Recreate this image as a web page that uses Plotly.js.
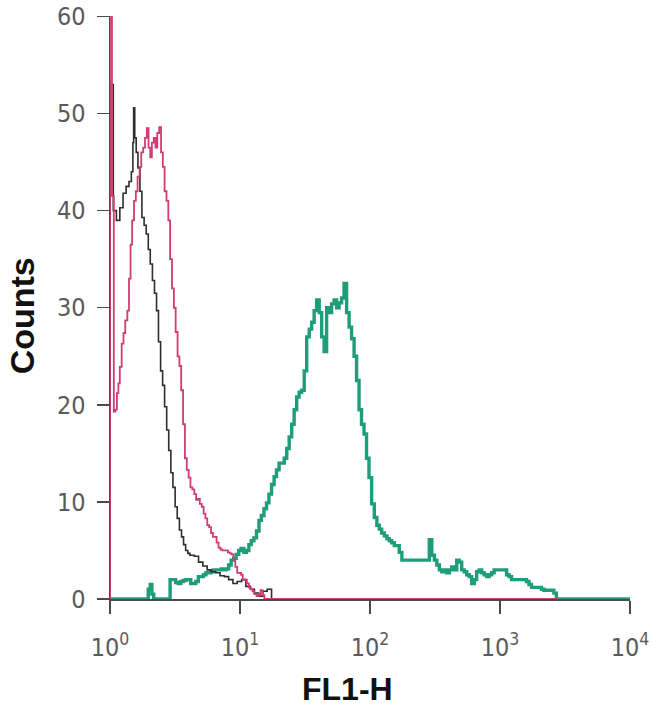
<!DOCTYPE html>
<html>
<head>
<meta charset="utf-8">
<script src="https://cdn.plot.ly/plotly-3.0.1.min.js"></script>
<style>html,body{margin:0;padding:0;background:#fff;}#chart{width:650px;height:717px;}</style>
</head>
<body>
<div id="chart"></div>
<script>
// FL1-H channel values (log scale) and event counts
const blackX = [1.0, 1.0, 1.06, 1.12, 1.19, 1.26, 1.33, 1.40, 1.46, 1.50, 1.52, 1.55, 1.59, 1.64, 1.70, 1.76, 1.83, 1.90, 1.97, 2.04, 2.12, 2.20, 2.28, 2.36, 2.45, 2.54, 2.63, 2.73, 2.83, 2.94, 3.05, 3.17, 3.29, 3.42, 3.55, 3.68, 3.82, 3.97, 4.12, 4.45, 4.80, 5.18, 5.59, 6.03, 6.51, 7.02, 7.58, 8.18, 8.83, 9.52, 10.3, 11.1, 12.0, 12.9, 13.9, 15.0, 16.2, 17.5, 20.0];
const blackY = [0, 53, 40, 39, 40.3, 41.8, 42.5, 43, 44, 47, 50.6, 47.5, 46, 44.4, 42, 39.3, 38.5, 37.6, 36, 34.5, 32.8, 31.5, 29.7, 26.5, 23.5, 22, 19.8, 17.4, 15.3, 13, 11.5, 9.5, 8.3, 7.1, 6.4, 5.6, 5.0, 4.7, 4.5, 4.4, 3.8, 3.4, 3.0, 2.8, 2.7, 2.4, 2.3, 2.0, 1.6, 1.8, 2.0, 1.3, 1.0, 0.6, 0.3, 0.8, 1.0, 0, 0];

const pinkX = [1.0, 1.0, 1.035, 1.07, 1.10, 1.13, 1.16, 1.19, 1.23, 1.27, 1.31, 1.36, 1.40, 1.44, 1.48, 1.53, 1.58, 1.63, 1.69, 1.74, 1.80, 1.86, 1.92, 1.98, 2.04, 2.10, 2.17, 2.24, 2.31, 2.39, 2.47, 2.55, 2.63, 2.72, 2.81, 2.90, 3.00, 3.10, 3.20, 3.31, 3.42, 3.53, 3.65, 3.77, 3.90, 4.03, 4.16, 4.30, 4.45, 4.60, 4.75, 4.91, 5.08, 5.25, 5.42, 5.60, 5.79, 5.99, 6.19, 6.40, 6.61, 6.84, 7.07, 7.31, 7.55, 7.81, 8.07, 8.34, 8.62, 8.91, 9.21, 9.52, 9.84, 10.2, 10.5, 10.9, 11.3, 11.7, 12.1, 12.5, 12.9, 13.4, 13.9, 14.4, 14.9, 15.4, 2800];
const pinkY = [0, 62, 41.5, 19.3, 19.5, 21.2, 22.2, 23.9, 26.3, 27.4, 28.7, 29.7, 33, 36.5, 39, 41, 42, 43.5, 44.5, 46, 46.5, 47.5, 48.5, 46.5, 45.5, 47, 47.5, 46.5, 48, 48.6, 46, 44.5, 42, 41, 39, 35, 32, 30, 27.5, 25, 24, 21.5, 18, 14.5, 13.3, 12.5, 11.5, 11.3, 10.8, 10.2, 10.3, 9.8, 9.5, 8.8, 8.3, 7.6, 7.4, 6.8, 6.4, 6.4, 5.8, 5.3, 5.1, 5.0, 5.0, 5.0, 4.8, 4.7, 4.6, 4.0, 3.3, 2.7, 2.7, 2.5, 2.0, 2.0, 1.6, 1.2, 1.0, 0.8, 0.5, 0.3, 0.5, 0.9, 0.4, 0, 0];

const greenX = [1.0, 1.85, 1.97, 2.04, 2.10, 2.17, 2.85, 2.90, 3.05, 3.20, 3.35, 3.50, 3.66, 3.83, 4.00, 4.18, 4.37, 4.57, 4.78, 5.00, 5.23, 5.47, 5.72, 5.98, 6.25, 6.54, 6.84, 7.15, 7.48, 7.82, 8.18, 8.55, 8.94, 9.35, 9.78, 10.2, 10.7, 11.2, 11.7, 12.2, 12.8, 13.4, 14.0, 14.6, 15.3, 16.0, 16.7, 17.5, 18.3, 19.1, 20.0, 20.9, 21.9, 22.9, 23.9, 25.0, 26.1, 27.3, 28.5, 29.8, 31.2, 32.6, 34.1, 35.6, 37.2, 38.9, 40.7, 42.5, 44.4, 46.4, 48.5, 50.7, 53.0, 55.4, 57.9, 60.5, 63.2, 66.1, 69.1, 72.2, 75.5, 78.9, 82.4, 86.1, 90.0, 94.1, 98.3, 103, 108, 113, 118, 123, 129, 135, 141, 147, 154, 161, 168, 176, 184, 192, 201, 210, 219, 229, 240, 251, 262, 274, 286, 299, 313, 327, 342, 357, 373, 390, 408, 426, 445, 465, 486, 508, 531, 555, 580, 606, 634, 662, 692, 723, 756, 790, 826, 863, 902, 943, 985, 1030, 1076, 1125, 1175, 1228, 1284, 1342, 1402, 1465, 1531, 1600, 1672, 1748, 1827, 1909, 1995, 2085, 2179, 2277, 2380, 2487, 2599, 2716, 10000];
const greenY = [0, 0, 1.0, 1.5, 0.5, 0, 0, 2.0, 2.0, 1.7, 1.6, 1.8, 1.9, 2.0, 2.0, 1.6, 1.6, 1.8, 2.3, 2.3, 2.5, 2.7, 2.7, 2.8, 3.0, 3.0, 3.0, 3.1, 3.0, 3.1, 3.5, 4.0, 4.2, 4.6, 5.0, 5.2, 4.8, 5.0, 5.6, 6.0, 6.3, 7.0, 8.1, 8.6, 9.3, 9.9, 10.8, 11.8, 12.6, 13.3, 14.0, 14.0, 14.5, 15.5, 16.7, 18.0, 19.5, 20.8, 21.3, 21.5, 23.5, 27.0, 27.8, 28.5, 29.7, 30.8, 29.5, 27.0, 25.5, 30.0, 29.5, 30.4, 30.8, 30.0, 30.5, 31.0, 32.5, 29.5, 28.0, 26.8, 25.0, 22.5, 19.5, 18.0, 17.0, 14.5, 12.5, 9.8, 8.4, 7.6, 7.2, 6.8, 6.5, 6.2, 6.0, 5.8, 5.5, 5.5, 4.8, 4.0, 4.0, 4.0, 4.0, 4.0, 4.0, 4.0, 4.0, 4.0, 4.0, 4.0, 6.1, 4.5, 4.0, 3.5, 3.0, 2.8, 3.0, 2.7, 3.0, 3.3, 3.0, 4.0, 3.8, 3.0, 2.8, 2.5, 2.3, 1.6, 2.0, 2.8, 3.0, 2.7, 2.5, 2.3, 2.5, 2.7, 3.0, 3.0, 3.0, 3.0, 3.0, 2.5, 2.3, 2.0, 2.0, 2.0, 2.0, 2.0, 2.0, 1.8, 1.5, 1.2, 1.2, 1.2, 1.2, 1.0, 0.9, 0.9, 0.9, 0.9, 0.6, 0, 0];

const xTickVals = [1, 10, 100, 1000, 10000];
const xTickText = ['10<sup>0</sup>', '10<sup>1</sup>', '10<sup>2</sup>', '10<sup>3</sup>', '10<sup>4</sup>'];
const yTickVals = [0, 10, 20, 30, 40, 50, 60];

const tickFont = {family: 'Liberation Sans Narrow, DejaVu Sans Condensed, Arial Narrow, sans-serif', size: 25, color: '#5a5a5a'};

const traces = [
  {x: greenX, y: greenY, type: 'scatter', mode: 'lines', line: {shape: 'hv', color: '#1f9d7a', width: 3.4}, hoverinfo: 'skip'},
  {x: blackX, y: blackY, type: 'scatter', mode: 'lines', line: {shape: 'hv', color: '#2e2e2e', width: 1.6}, hoverinfo: 'skip'},
  {x: pinkX, y: pinkY, type: 'scatter', mode: 'lines', line: {shape: 'hv', color: '#cf3d74', width: 1.8}, hoverinfo: 'skip'}
];

const layout = {
  width: 650, height: 717,
  margin: {l: 110, r: 20, t: 16, b: 118},
  paper_bgcolor: '#ffffff', plot_bgcolor: '#ffffff',
  showlegend: false,
  xaxis: {
    type: 'log', range: [0, 4.0005], showgrid: false, zeroline: false,
    showline: true, linecolor: '#4a4a4a', linewidth: 1.5,
    ticks: 'outside', ticklen: 13, tickwidth: 1.5, tickcolor: '#4a4a4a',
    tickvals: xTickVals, ticktext: xTickText, tickfont: tickFont,
    ticklabelstandoff: 12
  },
  yaxis: {
    range: [0, 60.05], showgrid: false, zeroline: false,
    showline: true, linecolor: '#4a4a4a', linewidth: 1.5,
    ticks: 'outside', ticklen: 12, tickwidth: 1.5, tickcolor: '#4a4a4a',
    tickvals: yTickVals, tickfont: tickFont,
    ticklabelstandoff: 6
  },
  annotations: [
    {text: '<b>FL1-H</b>', xref: 'paper', yref: 'paper', x: 0.456, y: -0.154, xanchor: 'center', yanchor: 'middle', showarrow: false,
     font: {family: 'Liberation Sans, Arial, sans-serif', size: 32, color: '#111'}},
    {text: '<b>Counts</b>', xref: 'paper', yref: 'paper', x: -0.169, y: 0.485, xanchor: 'center', yanchor: 'middle', showarrow: false, textangle: -90,
     font: {family: 'Liberation Sans, Arial, sans-serif', size: 34, color: '#111'}}
  ]
};

Plotly.newPlot('chart', traces, layout, {staticPlot: true, displayModeBar: false});
</script>
</body>
</html>
